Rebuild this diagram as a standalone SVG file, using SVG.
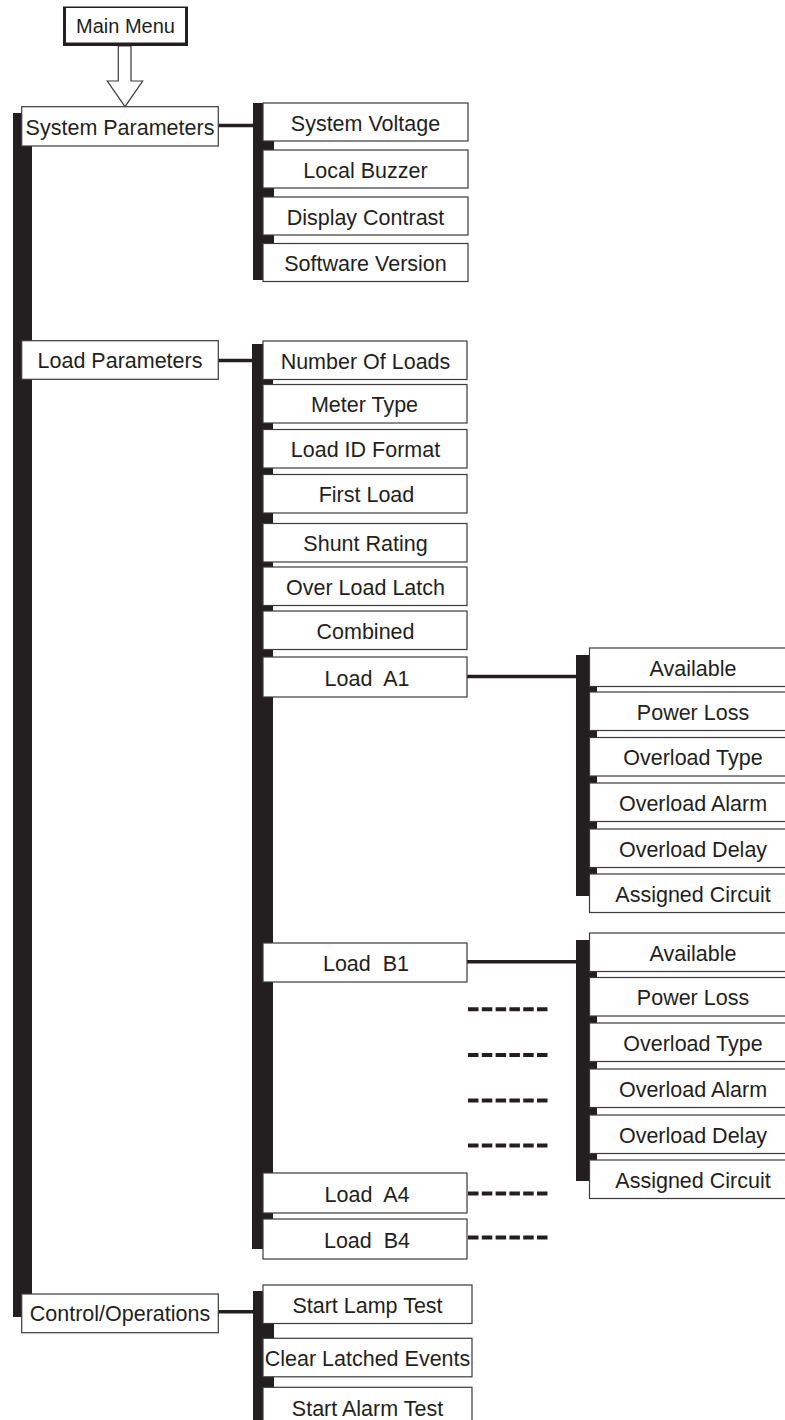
<svg xmlns="http://www.w3.org/2000/svg" width="785" height="1420" viewBox="0 0 785 1420">
<style>
.bar{fill:#231f20}
.box{fill:#fff;stroke:#3c3a3a;stroke-width:1.2}
.t{font-family:"Liberation Sans",Arial,sans-serif;font-size:21.5px;fill:#231f20;text-anchor:middle}
.ln{stroke:#231f20;stroke-width:3.6;fill:none}
.dash{stroke:#231f20;stroke-width:4;stroke-dasharray:10.5 3.3;fill:none}
</style>
<rect width="785" height="1420" fill="#fff"/>

<g id="connectors">
  <rect class="bar" x="13" y="113" width="19" height="1204"/>
  <rect class="bar" x="253" y="103" width="21" height="177"/>
  <rect class="bar" x="252" y="344" width="21" height="905"/>
  <rect class="bar" x="253" y="1291" width="21" height="135"/>
  <rect class="bar" x="576" y="655" width="21" height="241"/>
  <rect class="bar" x="576" y="940" width="21" height="241"/>
  <line class="ln" x1="218" y1="125.5" x2="254" y2="125.5"/>
  <line class="ln" x1="218" y1="360.5" x2="264" y2="360.5" stroke-width="3.2"/>
  <line class="ln" x1="218" y1="1311.7" x2="254" y2="1311.7"/>
  <line class="ln" x1="467" y1="676.5" x2="577" y2="676.5"/>
  <line class="ln" x1="467" y1="961.7" x2="577" y2="961.7"/>
  <line class="dash" x1="468" y1="1009.3" x2="549" y2="1009.3"/>
  <line class="dash" x1="468" y1="1055" x2="549" y2="1055"/>
  <line class="dash" x1="468" y1="1100.6" x2="549" y2="1100.6"/>
  <line class="dash" x1="468" y1="1145.5" x2="549" y2="1145.5"/>
  <line class="dash" x1="468" y1="1193.4" x2="549" y2="1193.4"/>
  <line class="dash" x1="468" y1="1237.5" x2="549" y2="1237.5"/>
  <polygon points="118.3,46 118.3,81 107.3,81 125,106.7 142.7,81 131,81 131,46" fill="#fff" stroke="#3c3a3a" stroke-width="1.2"/>
</g>

<g id="main-menu">
  <rect x="63" y="6.5" width="125" height="39.5" fill="#231f20"/>
  <rect x="66" y="8" width="119" height="34.5" fill="#fff"/>
  <text class="t" x="125.5" y="32.7" style="font-size:20px">Main Menu</text>
</g>

<g id="system-parameters">
  <rect class="box" x="21.7" y="106.7" width="196.6" height="39.3"/>
  <text class="t" x="120" y="134.8">System Parameters</text>
</g>
<g id="system-voltage"><rect class="box" x="263" y="103" width="205" height="38"/><text class="t" x="365.5" y="130.5">System Voltage</text></g>
<g id="local-buzzer"><rect class="box" x="263" y="150" width="205" height="38"/><text class="t" x="365.5" y="177.5">Local Buzzer</text></g>
<g id="display-contrast"><rect class="box" x="263" y="197" width="205" height="38"/><text class="t" x="365.5" y="224.5">Display Contrast</text></g>
<g id="software-version"><rect class="box" x="263" y="243.5" width="205" height="38"/><text class="t" x="365.5" y="271">Software Version</text></g>

<g id="load-parameters">
  <rect class="box" x="21.7" y="340.7" width="196.6" height="38.6"/>
  <text class="t" x="120" y="368">Load Parameters</text>
</g>
<g id="number-of-loads"><rect class="box" x="263" y="341" width="204" height="38.5"/><text class="t" x="365.5" y="368.8">Number Of Loads</text></g>
<g id="meter-type"><rect class="box" x="263" y="384.5" width="204" height="38.5"/><text class="t" x="364.5" y="412.3">Meter Type</text></g>
<g id="load-id-format"><rect class="box" x="263" y="429.5" width="204" height="38.5"/><text class="t" x="365.5" y="457.3">Load ID Format</text></g>
<g id="first-load"><rect class="box" x="263" y="474.5" width="204" height="38.5"/><text class="t" x="366.5" y="502.3">First Load</text></g>
<g id="shunt-rating"><rect class="box" x="263" y="523.5" width="204" height="38.5"/><text class="t" x="365.5" y="551.3">Shunt Rating</text></g>
<g id="over-load-latch"><rect class="box" x="263" y="567" width="204" height="38.5"/><text class="t" x="365.5" y="594.8">Over Load Latch</text></g>
<g id="combined"><rect class="box" x="263" y="611" width="204" height="38.5"/><text class="t" x="365.5" y="638.8">Combined</text></g>
<g id="load-a1"><rect class="box" x="263" y="657" width="204" height="40"/><text class="t" x="367" y="685.5" xml:space="preserve" style="white-space:pre">Load  A1</text></g>
<g id="load-b1"><rect class="box" x="263" y="943" width="204" height="39"/><text class="t" x="366" y="971" xml:space="preserve" style="white-space:pre">Load  B1</text></g>
<g id="load-a4"><rect class="box" x="263" y="1173" width="204" height="40"/><text class="t" x="367" y="1201.5" xml:space="preserve" style="white-space:pre">Load  A4</text></g>
<g id="load-b4"><rect class="box" x="263" y="1219" width="204" height="40"/><text class="t" x="367" y="1247.5" xml:space="preserve" style="white-space:pre">Load  B4</text></g>

<g id="a1-available"><rect class="box" x="589.5" y="648" width="208" height="38.5"/><text class="t" x="693" y="675.8">Available</text></g>
<g id="a1-power-loss"><rect class="box" x="589.5" y="692" width="208" height="38.5"/><text class="t" x="693" y="719.8">Power Loss</text></g>
<g id="a1-overload-type"><rect class="box" x="589.5" y="737.5" width="208" height="38.5"/><text class="t" x="693" y="765.3">Overload Type</text></g>
<g id="a1-overload-alarm"><rect class="box" x="589.5" y="783" width="208" height="38.5"/><text class="t" x="693" y="810.8">Overload Alarm</text></g>
<g id="a1-overload-delay"><rect class="box" x="589.5" y="829" width="208" height="38.5"/><text class="t" x="693" y="856.8">Overload Delay</text></g>
<g id="a1-assigned-circuit"><rect class="box" x="589.5" y="874" width="208" height="38.5"/><text class="t" x="693" y="901.8">Assigned Circuit</text></g>

<g id="b1-available"><rect class="box" x="589.5" y="933" width="208" height="38.5"/><text class="t" x="693" y="960.8">Available</text></g>
<g id="b1-power-loss"><rect class="box" x="589.5" y="977.5" width="208" height="38.5"/><text class="t" x="693" y="1005.3">Power Loss</text></g>
<g id="b1-overload-type"><rect class="box" x="589.5" y="1023" width="208" height="38.5"/><text class="t" x="693" y="1050.8">Overload Type</text></g>
<g id="b1-overload-alarm"><rect class="box" x="589.5" y="1069" width="208" height="38.5"/><text class="t" x="693" y="1096.8">Overload Alarm</text></g>
<g id="b1-overload-delay"><rect class="box" x="589.5" y="1115" width="208" height="38.5"/><text class="t" x="693" y="1142.8">Overload Delay</text></g>
<g id="b1-assigned-circuit"><rect class="box" x="589.5" y="1160" width="208" height="38.5"/><text class="t" x="693" y="1187.8">Assigned Circuit</text></g>

<g id="control-operations">
  <rect class="box" x="21.7" y="1294" width="196.6" height="38.7"/>
  <text class="t" x="120" y="1321.3">Control/Operations</text>
</g>
<g id="start-lamp-test"><rect class="box" x="263" y="1285" width="209" height="38.5"/><text class="t" x="367.5" y="1312.8">Start Lamp Test</text></g>
<g id="clear-latched-events"><rect class="box" x="263" y="1338.3" width="209" height="38.5"/><text class="t" x="367.5" y="1366">Clear Latched Events</text></g>
<g id="start-alarm-test"><rect class="box" x="263" y="1387.3" width="209" height="45"/><text class="t" x="367.5" y="1415.5">Start Alarm Test</text></g>
</svg>
